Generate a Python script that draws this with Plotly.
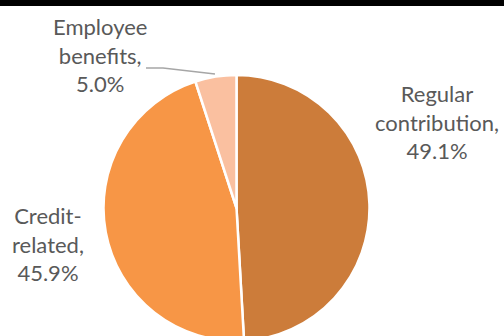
import plotly.graph_objects as go

# Data
categories = ["Regular contribution", "Credit-related", "Employee benefits"]
shares = [49.1, 45.9, 5.0]
label_text = ["Regular<br>contribution,", "Credit-<br>related,", "Employee<br>benefits,"]
colors = ["#CC7C3A", "#F79646", "#FAC0A0"]

W, H = 504, 341
T, B = 75, 0
PH = H - T - B

def px(x):
    return x / W

def py(y):
    return (H - B - y) / PH

cx, r = 236.5, 133

fig = go.Figure(go.Pie(
    labels=categories,
    values=shares,
    sort=False,
    direction="clockwise",
    rotation=0,
    textinfo="none",
    hoverinfo="label+percent",
    marker=dict(colors=colors, line=dict(color="white", width=2.5)),
    domain=dict(x=[px(cx - r), px(cx + r)], y=[0, 1]),
    showlegend=False,
))

label_pos = [(437, 122), (48, 244), (100, 55)]
for txt, v, (x, y) in zip(label_text, shares, label_pos):
    fig.add_annotation(
        x=px(x), y=py(y), xref="paper", yref="paper",
        text=f"{txt}<br>{v:.1f}%", showarrow=False,
        xanchor="center", yanchor="middle", align="center",
        font=dict(family="Lato", size=22, color="#595959"),
    )

# leader line for Employee benefits
fig.add_shape(
    type="path", xref="paper", yref="paper",
    path=f"M {px(146)} {py(68)} L {px(163)} {py(68)} L {px(215)} {py(74)}",
    line=dict(color="#A6A6A6", width=1.5),
)
# black top bar
fig.add_shape(
    type="rect", xref="paper", yref="paper",
    x0=0, x1=1, y0=py(6), y1=py(0),
    fillcolor="black", line=dict(width=0),
)

fig.update_layout(
    width=W, height=H,
    margin=dict(l=0, r=0, t=T, b=B),
    paper_bgcolor="white",
    plot_bgcolor="white",
)

fig.write_html(
    "out.html",
    post_script="document.documentElement.style.overflow='hidden';document.body.style.overflow='hidden';document.body.style.margin='0';",
)
